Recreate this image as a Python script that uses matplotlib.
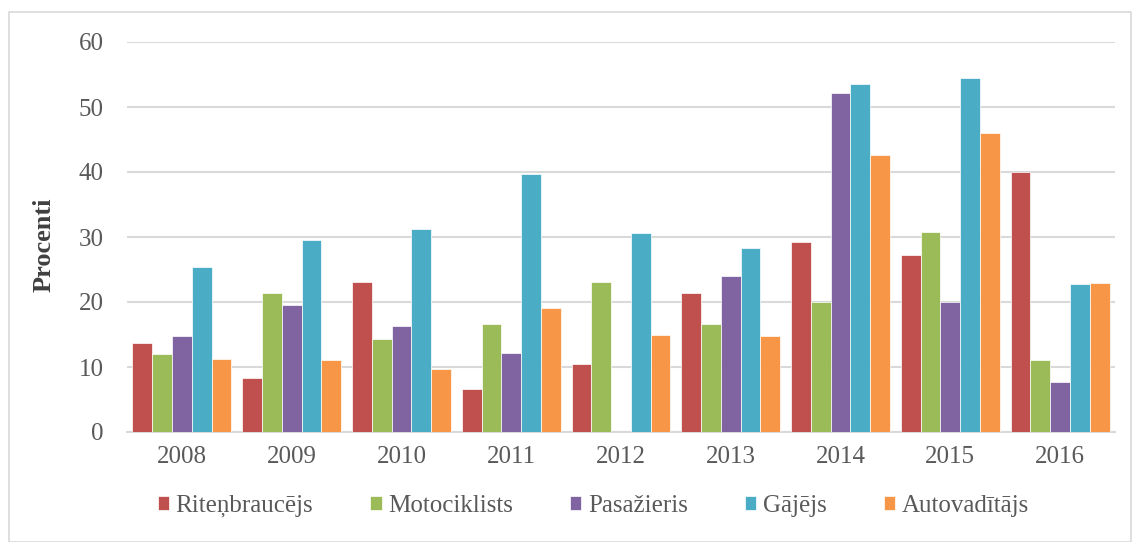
import numpy as np
import matplotlib.pyplot as plt
from matplotlib.patches import Rectangle

years = ['2008', '2009', '2010', '2011', '2012', '2013', '2014', '2015', '2016']
series_names = ['Riteņbraucējs', 'Motociklists', 'Pasažieris', 'Gājējs', 'Autovadītājs']

ritenbraucejs = [13.7, 8.3, 23.1, 6.6, 10.5, 21.4, 29.2, 27.3, 40.0]
motociklists = [12.0, 21.4, 14.3, 16.6, 23.1, 16.6, 20.0, 30.8, 11.1]
pasazieris = [14.8, 19.5, 16.3, 12.1, 0.0, 24.0, 52.2, 20.0, 7.7]
gajejs = [25.4, 29.5, 31.2, 39.7, 30.6, 28.3, 53.6, 54.5, 22.8]
autovaditajs = [11.2, 11.1, 9.7, 19.1, 14.9, 14.8, 42.6, 46.0, 22.9]

colors = ['#C0504D', '#9BBB59', '#8064A2', '#4BACC6', '#F79646']

plt.rcParams['font.family'] = ['Liberation Serif', 'DejaVu Serif']

fig = plt.figure(figsize=(11.32, 5.42), dpi=100)
ax = fig.add_axes([127 / 1132, 1 - 432 / 542, (1115 - 127) / 1132, (432 - 42) / 542])

# light frame around the whole chart
fig.patches.append(Rectangle((9 / 1132, 0), 1 - 10 / 1132, 1 - 12 / 542,
                             transform=fig.transFigure, fill=False,
                             edgecolor='#d9d9d9', linewidth=1.2))

x = np.arange(len(years))
width = 0.18
data = [ritenbraucejs, motociklists, pasazieris, gajejs, autovaditajs]
for i, (vals, name) in enumerate(zip(data, series_names)):
    ax.bar(x + (i - 2) * width, vals, width, color=colors[i], label=name,
           edgecolor='white', linewidth=0.5, zorder=3)

ax.set_xlim(-0.5, len(years) - 0.5)
ax.set_ylim(0, 60)
ax.set_yticks(range(0, 61, 10))
ax.set_xticks(x)
ax.set_xticklabels(years)
ax.tick_params(axis='both', length=0, labelsize=18, colors='#595959')
ax.tick_params(axis='x', pad=10)
ax.tick_params(axis='y', pad=17)
ax.yaxis.grid(True, color='#d9d9d9', linewidth=1.5, zorder=0)
for s in ['top', 'right', 'left']:
    ax.spines[s].set_visible(False)
ax.spines['bottom'].set_color('#d9d9d9')
ax.spines['bottom'].set_linewidth(1.5)

ax.set_ylabel('Procenti', fontsize=19, fontweight='bold', color='#404040')
ax.yaxis.set_label_coords((56 - 127) / 988, 0.48)

fig.legend(loc='center', bbox_to_anchor=(0.524, 1 - 506 / 542), ncol=5, frameon=False,
           fontsize=18, handlelength=0.45, handleheight=0.45, handletextpad=0.25,
           columnspacing=2.3, labelcolor='#595959')

fig.savefig('out.png', dpi=100)
